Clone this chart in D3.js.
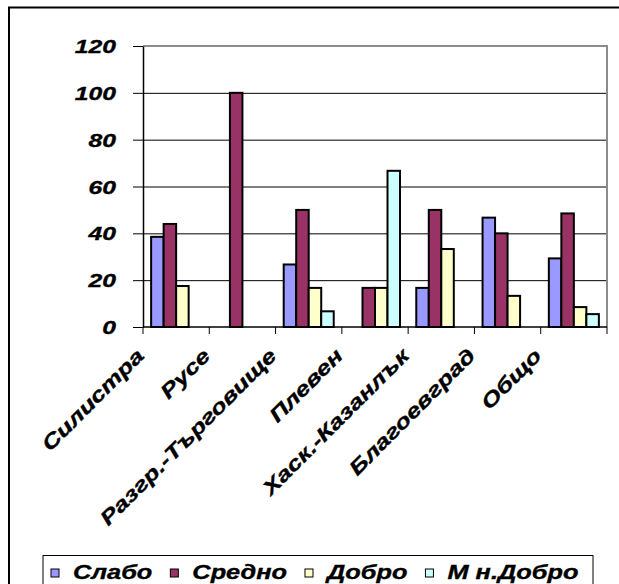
<!DOCTYPE html>
<html>
<head>
<meta charset="utf-8">
<script src="https://cdn.jsdelivr.net/npm/d3@7"></script>
<style>
  body { margin: 0; background: #fff; }
  text { font-family: "Liberation Sans", Arial, sans-serif; font-weight: bold; font-style: italic; fill: #000; stroke: #000; stroke-width: 0.35px; }
</style>
</head>
<body>
<svg id="chart" width="619" height="584"></svg>
<script>
const categories = ["Силистра", "Русе", "Разгр.-Търговище", "Плевен", "Хаск.-Казанлък", "Благоевград", "Общо"];
const seriesNames = ["Слабо", "Средно", "Добро", "М н.Добро"];
const slabo = [38.5, 0, 26.7, 0, 16.7, 46.7, 29.3];
const sredno = [44, 100, 50, 16.7, 50, 40, 48.5];
const dobro = [17.5, 0, 16.7, 16.7, 33.3, 13.3, 8.5];
const mnDobro = [0, 0, 6.7, 66.7, 0, 0, 5.5];
const yTicks = [0, 20, 40, 60, 80, 100, 120];
const colors = ["#9999FF", "#993366", "#FFFFCC", "#CCFFFF"];

const values = [slabo, sredno, dobro, mnDobro];
const stretch = 1.3; // text looks horizontally wide in the original

const svg = d3.select("#chart");
const plot = { left: 143, right: 607, top: 46, bottom: 327 };

// outer chart frame (right and bottom edges fall outside the picture)
svg.append("rect")
    .attr("x", 9).attr("y", 7.5)
    .attr("width", 700).attr("height", 700)
    .attr("fill", "#fff").attr("stroke", "#000").attr("stroke-width", 2);

const x0 = d3.scaleBand().domain(categories).range([plot.left, plot.right]);
const x1 = d3.scaleBand().domain(seriesNames).range([0, x0.bandwidth()]).paddingOuter(0.65);
const y = d3.scaleLinear().domain([0, 120]).range([plot.bottom, plot.top]);

// gridlines
svg.append("g")
    .selectAll("line")
    .data(yTicks.filter(d => d > 0 && d < 120))
    .enter().append("line")
        .attr("x1", plot.left).attr("x2", plot.right)
        .attr("y1", d => y(d) + 0.5).attr("y2", d => y(d) + 0.5)
        .attr("stroke", "#000").attr("stroke-width", 1);

// plot area border, top and right
svg.append("path")
    .attr("d", `M${plot.left},${plot.top} H${plot.right} V${plot.bottom}`)
    .attr("fill", "none").attr("stroke", "#8c8c8c").attr("stroke-width", 2);

// bars
const bars = svg.append("g");
seriesNames.forEach((s, si) => {
    bars.append("g")
        .selectAll("rect")
        .data(categories.map((c, i) => ({ c: c, v: values[si][i] })).filter(d => d.v > 0))
        .enter().append("rect")
            .attr("x", d => x0(d.c) + x1(s))
            .attr("y", d => y(d.v))
            .attr("width", x1.bandwidth())
            .attr("height", d => y(0) - y(d.v))
            .attr("fill", colors[si])
            .attr("stroke", "#000").attr("stroke-width", 2);
});

// y axis
const yAxis = svg.append("g")
    .attr("transform", `translate(${plot.left},0)`)
    .call(d3.axisLeft(y).tickValues(yTicks).tickSize(10).tickSizeOuter(0));
yAxis.attr("font-family", null).attr("font-size", null);
yAxis.select(".domain").attr("stroke", "#000").attr("stroke-width", 1.5);
yAxis.selectAll(".tick line").attr("stroke", "#000");
yAxis.selectAll(".tick text")
    .attr("x", 0).attr("dy", "0.35em")
    .attr("transform", `translate(-27,0) scale(${stretch},1)`)
    .style("font-size", "19px");

// x axis with ticks on the category boundaries
const xAxis = svg.append("g").attr("transform", `translate(0,${plot.bottom})`);
xAxis.append("line")
    .attr("x1", plot.left).attr("x2", plot.right)
    .attr("stroke", "#000").attr("stroke-width", 1.5);
xAxis.selectAll(".bound")
    .data(categories.map(c => x0(c)).concat([plot.right]))
    .enter().append("line")
        .attr("x1", d => d).attr("x2", d => d)
        .attr("y1", 0).attr("y2", 7)
        .attr("stroke", "#000");
xAxis.selectAll(".lbl")
    .data(categories)
    .enter().append("text")
        .attr("text-anchor", "end")
        .attr("transform", d => `translate(${x0(d) + x0.bandwidth() / 2 - 31},${30}) rotate(-45) scale(${stretch},1)`)
        .style("font-size", "20px")
        .text(d => d);

// legend
const legend = svg.append("g");
legend.append("rect")
    .attr("x", 43).attr("y", 555.5)
    .attr("width", 550).attr("height", 60)
    .attr("fill", "#fff").attr("stroke", "#000").attr("stroke-width", 1);
let lx = 51;
seriesNames.forEach((s, si) => {
    legend.append("rect")
        .attr("x", lx).attr("y", 569)
        .attr("width", 8).attr("height", 8)
        .attr("fill", colors[si]).attr("stroke", "#000").attr("stroke-width", 1);
    const t = legend.append("text")
        .attr("transform", `translate(${lx + 22},578.5) scale(${stretch},1)`)
        .style("font-size", "19.5px")
        .text(s);
    lx += 22 + t.node().getComputedTextLength() * stretch + 18;
});
</script>
</body>
</html>
